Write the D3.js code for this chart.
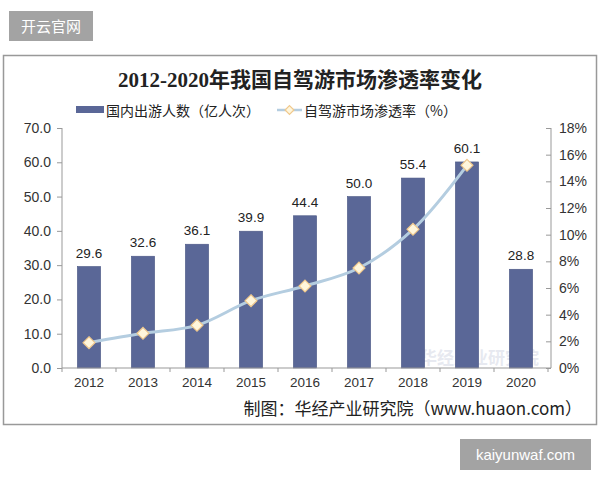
<!DOCTYPE html>
<html><head><meta charset="utf-8">
<script src="https://cdn.jsdelivr.net/npm/d3@7/dist/d3.min.js"></script>
<style>body{margin:0;background:#fff}svg{display:block}</style>
</head><body>
<script>
const years = ["2012","2013","2014","2015","2016","2017","2018","2019","2020"];
const trips = [29.6, 32.6, 36.1, 39.9, 44.4, 50.0, 55.4, 60.1, 28.8];
const penetration = [1.9, 2.6, 3.2, 5.05, 6.15, 7.5, 10.4, 15.2];
const leftTicks = [0,10,20,30,40,50,60,70];
const rightTicks = [0,2,4,6,8,10,12,14,16,18];

const W=600,H=480;
const svg=d3.select("body").append("svg").attr("width",W).attr("height",H);
const cjk="'Noto Sans CJK SC','Noto Sans',sans-serif";
const num="Arial,'Liberation Sans',sans-serif";

// top-left badge
svg.append("rect").attr("x",9).attr("y",11).attr("width",84).attr("height",30).attr("fill","#a3a3a3");
svg.append("text").attr("x",51).attr("y",32).attr("text-anchor","middle").attr("fill","#fff")
  .attr("font-family",cjk).attr("font-size",15).text("开云官网");

// frame
svg.append("rect").attr("x",3.5).attr("y",55.5).attr("width",593).attr("height",369)
  .attr("fill","#fff").attr("stroke","#999").attr("stroke-width",1.5);

// title
svg.append("text").attr("x",300).attr("y",87).attr("text-anchor","middle")
  .attr("font-family","'Liberation Serif','Noto Sans CJK SC',serif").attr("font-weight","bold")
  .attr("font-size",21).attr("fill","#222").text("2012-2020年我国自驾游市场渗透率变化");

const x=d3.scaleBand().domain(years).range([62,548]).paddingInner(0.57).paddingOuter(0.285);
const y=d3.scaleLinear().domain([0,70]).range([368,128]);
const y2=d3.scaleLinear().domain([0,18]).range([368,128]);

// watermark in plot
const wm=svg.append("g").attr("opacity",0.2);
wm.append("rect").attr("x",404).attr("y",344).attr("width",10).attr("height",22).attr("fill","#8fb0d8");
wm.append("text").attr("x",420).attr("y",364).attr("font-family",cjk).attr("font-size",17)
  .attr("fill","#8a96b8").attr("font-weight","bold").text("华经产业研究院");

// bars
svg.append("g").selectAll("rect").data(years).join("rect")
  .attr("x",d=>x(d)).attr("width",x.bandwidth())
  .attr("y",(d,i)=>y(trips[i])).attr("height",(d,i)=>y(0)-y(trips[i]))
  .attr("fill","#5a6797").attr("stroke","#4a5684").attr("stroke-width",0.6);

// bar labels
svg.append("g").selectAll("text").data(years).join("text")
  .attr("x",d=>x(d)+x.bandwidth()/2).attr("y",(d,i)=>y(trips[i])-9)
  .attr("text-anchor","middle").attr("font-family",num).attr("font-size",13.5).attr("fill","#222")
  .text((d,i)=>trips[i].toFixed(1));

// axes
const axL=svg.append("g").attr("transform","translate(62,0)")
  .call(d3.axisLeft(y).tickValues(leftTicks).tickFormat(d=>d.toFixed(1)).tickSize(5).tickPadding(6));
const axR=svg.append("g").attr("transform","translate(551,0)")
  .call(d3.axisRight(y2).tickValues(rightTicks).tickFormat(d=>d+"%").tickSize(5).tickPadding(4));
[axL,axR].forEach(a=>{
  a.select(".domain").attr("stroke","#999").attr("d","M0,128V368");
  a.selectAll("text").attr("font-family",num).attr("font-size",14).attr("fill","#333");
});
axL.selectAll(".tick line").attr("stroke","#999").attr("x1",0).attr("x2",-5);
axR.selectAll(".tick line").attr("stroke","#999").attr("x1",-5).attr("x2",0);
axR.selectAll(".tick text").attr("x",8);

// x axis
const axB=svg.append("g").attr("transform","translate(0,368)")
  .call(d3.axisBottom(x).tickSize(0).tickPadding(9));
axB.select(".domain").attr("stroke","#999").attr("d","M62,0H551");
axB.selectAll("text").attr("font-family",num).attr("font-size",13.5).attr("fill","#333");
const step=x.step();
svg.append("g").selectAll("line").data(d3.range(years.length+1)).join("line")
  .attr("x1",i=>62+i*step).attr("x2",i=>62+i*step).attr("y1",368).attr("y2",372)
  .attr("stroke","#999");

// line
const pts=penetration.map((v,i)=>[x(years[i])+x.bandwidth()/2,y2(v)]);
svg.append("path").attr("d",d3.line().curve(d3.curveCatmullRom.alpha(0.5))(pts))
  .attr("fill","none").attr("stroke","#b4cde0").attr("stroke-width",3);
const diamond=d3.symbol().type(d3.symbolDiamond2).size(90);
svg.append("g").selectAll("path").data(pts).join("path")
  .attr("transform",d=>`translate(${d[0]},${d[1]})`).attr("d",diamond)
  .attr("fill","#fff6dc").attr("stroke","#f0c88c").attr("stroke-width",1.2);

// legend
svg.append("rect").attr("x",76).attr("y",106).attr("width",28).attr("height",7).attr("fill","#5a6797");
svg.append("text").attr("x",106).attr("y",116).attr("font-family",cjk).attr("font-size",14).attr("fill","#222")
  .text("国内出游人数（亿人次）");
svg.append("line").attr("x1",277).attr("x2",302).attr("y1",110).attr("y2",110).attr("stroke","#b4cde0").attr("stroke-width",2.5);
svg.append("path").attr("transform","translate(289.5,110)").attr("d",d3.symbol().type(d3.symbolDiamond2).size(50))
  .attr("fill","#fff6dc").attr("stroke","#f0c88c").attr("stroke-width",1.2);
svg.append("text").attr("x",304).attr("y",116).attr("font-family",cjk).attr("font-size",14).attr("fill","#222")
  .text("自驾游市场渗透率（%）");

// source
svg.append("text").attr("x",582).attr("y",415).attr("text-anchor","end").attr("font-family",cjk)
  .attr("font-size",17).attr("fill","#222")
  .text("制图：华经产业研究院（www.huaon.com）");

// bottom-right badge
svg.append("rect").attr("x",460).attr("y",439).attr("width",131).attr("height",31).attr("fill","#a3a3a3");
svg.append("text").attr("x",525.5).attr("y",460).attr("text-anchor","middle").attr("fill","#fff")
  .attr("font-family",num).attr("font-size",15).text("kaiyunwaf.com");
</script>
</body></html>
